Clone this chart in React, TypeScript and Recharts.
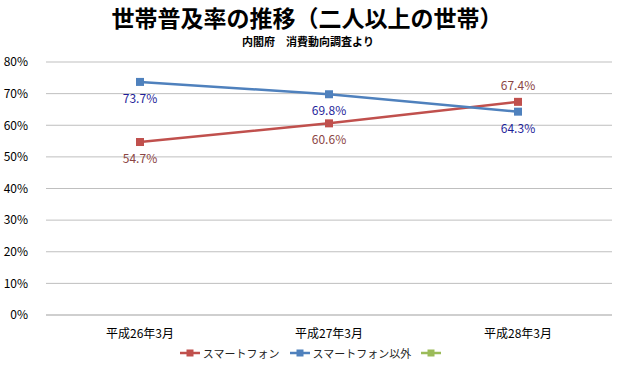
import React from 'react';
import { LineChart, Line, XAxis, YAxis, CartesianGrid, LabelList, Legend } from 'recharts';

const categories = ['平成26年3月', '平成27年3月', '平成28年3月'];
const smartphone = [54.7, 60.6, 67.4];
const otherPhone = [73.7, 69.8, 64.3];
const yTicks = [0, 10, 20, 30, 40, 50, 60, 70, 80];

const RED = '#C0504D';
const BLUE = '#4F81BD';
const GREEN = '#9BBB59';
const FONT = '"Noto Sans CJK JP", "Noto Sans", sans-serif';

const data = categories.map((c, i) => ({
  name: c,
  smart: smartphone[i],
  other: otherPhone[i],
  extra: null,
}));

const legendItems = [
  { label: 'スマートフォン', color: RED },
  { label: 'スマートフォン以外', color: BLUE },
  { label: '', color: GREEN },
];

const LegendContent = () => (
  <div style={{ display: 'flex', justifyContent: 'center', alignItems: 'center', fontFamily: FONT, fontSize: 11, color: '#222', marginLeft: 22 }}>
    {legendItems.map((it, i) => (
      <div key={i} style={{ display: 'flex', alignItems: 'center', marginRight: 10 }}>
        <svg width={20} height={10} style={{ marginRight: 3 }}>
          <line x1={0} y1={5} x2={20} y2={5} stroke={it.color} strokeWidth={2.5} />
          <rect x={6.5} y={1.5} width={7} height={7} fill={it.color} />
        </svg>
        <span>{it.label}</span>
      </div>
    ))}
  </div>
);

const makeLabel = (color: string, above: (i: number) => boolean) => (props: any) => {
  const { x, y, value, index } = props;
  const dy = above(index) ? -12 : 21;
  return (
    <text x={x} y={y + dy} textAnchor="middle" fill={color} fontSize={12} fontFamily={FONT}>
      {value.toFixed(1)}%
    </text>
  );
};

const Square = (color: string) => (props: any) => {
  const { cx, cy } = props;
  if (cx == null || cy == null) return <g />;
  return <rect x={cx - 4} y={cy - 4} width={8} height={8} fill={color} />;
};

export default function App() {
  return (
    <div style={{ position: 'absolute', left: 0, top: 0, width: 620, height: 379, background: '#fff', fontFamily: FONT }}>
      <div style={{ position: 'absolute', left: 0, width: 614, top: 4, textAlign: 'center', fontSize: 23, fontWeight: 'bold', color: '#000', lineHeight: '26px' }}>
        世帯普及率の推移（二人以上の世帯）
      </div>
      <div style={{ position: 'absolute', left: 0, width: 616, top: 35, textAlign: 'center', fontSize: 11, fontWeight: 'bold', color: '#000', lineHeight: '13px' }}>
        内閣府　消費動向調査より
      </div>
      <LineChart width={620} height={379} data={data} margin={{ top: 62, right: 8, bottom: 0, left: 0 }}>
        <CartesianGrid vertical={false} stroke="#BFBFBF" strokeWidth={1} />
        <XAxis
          dataKey="name"
          tick={{ fontSize: 12, fill: '#000', fontFamily: FONT }}
          tickLine={false}
          axisLine={{ stroke: '#BFBFBF' }}
          tickMargin={8}
          height={30}
          padding={{ left: 94, right: 94 }}
          interval={0}
        />
        <YAxis
          domain={[0, 80]}
          ticks={yTicks}
          tickFormatter={(v: number) => `${v}%`}
          tick={{ fontSize: 12, fill: '#000', fontFamily: FONT }}
          tickLine={false}
          axisLine={false}
          width={46}
          tickMargin={12}
          interval={0}
        />
        <Legend content={<LegendContent />} verticalAlign="bottom" height={34} />
        <Line dataKey="smart" stroke={RED} strokeWidth={2.5} dot={Square(RED)} activeDot={false} isAnimationActive={false}>
          <LabelList dataKey="smart" content={makeLabel('#8B4543', (i) => i === 2)} />
        </Line>
        <Line dataKey="other" stroke={BLUE} strokeWidth={2.5} dot={Square(BLUE)} activeDot={false} isAnimationActive={false}>
          <LabelList dataKey="other" content={makeLabel('#1F1F9A', () => false)} />
        </Line>
        <Line dataKey="extra" stroke={GREEN} strokeWidth={2.5} dot={false} isAnimationActive={false} />
      </LineChart>
    </div>
  );
}
